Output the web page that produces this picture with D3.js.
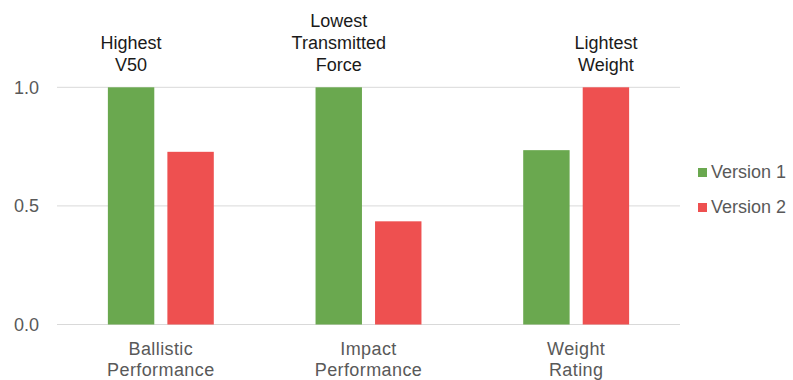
<!DOCTYPE html>
<html>
<head>
<meta charset="utf-8">
<script src="https://cdn.jsdelivr.net/npm/d3@7"></script>
<style>
  html, body { margin: 0; padding: 0; background: #fff; }
  svg { display: block; font-family: "Liberation Sans", Arial, sans-serif; }
</style>
</head>
<body>
<svg id="chart" width="793" height="380"></svg>
<script>
// Normalised scores per category, one array per version
const categories = [["Ballistic", "Performance"], ["Impact", "Performance"], ["Weight", "Rating"]];
const seriesNames = ["Version 1", "Version 2"];
const version1 = [1.0, 1.0, 0.735];
const version2 = [0.728, 0.435, 1.0];
const yTicks = [0.0, 0.5, 1.0];
// Callout text above the leading bar of each category
const calloutLines = [["Highest", "V50"], ["Lowest", "Transmitted", "Force"], ["Lightest", "Weight"]];
const calloutSeries = [0, 0, 1];

const colors = ["#6aa84f", "#ee5050"];
const values = [version1, version2];

const svg = d3.select("#chart");
const plotLeft = 57, plotRight = 680, plotTop = 87.3, plotBottom = 324.5;

const x0 = d3.scaleBand().domain(d3.range(categories.length)).range([plotLeft, plotRight]).padding(0);
const x1 = d3.scaleBand().domain(d3.range(seriesNames.length)).range([0, x0.bandwidth()])
  .paddingInner(0.22).paddingOuter(0.855);
const y = d3.scaleLinear().domain([0, 1]).range([plotBottom, plotTop]);

// Horizontal gridlines
svg.append("g").selectAll("line").data(yTicks).join("line")
  .attr("x1", plotLeft).attr("x2", plotRight)
  .attr("y1", d => y(d)).attr("y2", d => y(d))
  .attr("stroke", "#d9d9d9").attr("stroke-width", 1);

// Y axis tick labels
svg.append("g").selectAll("text").data(yTicks).join("text")
  .attr("x", 39).attr("y", d => y(d) + 6.5)
  .attr("text-anchor", "end")
  .attr("font-size", 18).attr("fill", "#595959")
  .text(d => d3.format(".1f")(d));

// Bars
const groups = svg.append("g").selectAll("g").data(categories).join("g")
  .attr("transform", (d, i) => `translate(${x0(i)},0)`);
groups.selectAll("rect")
  .data((d, i) => seriesNames.map((s, k) => ({ k, v: values[k][i] })))
  .join("rect")
  .attr("x", d => x1(d.k))
  .attr("width", x1.bandwidth())
  .attr("y", d => y(d.v))
  .attr("height", d => y(0) - y(d.v))
  .attr("fill", d => colors[d.k]);

// Category labels (two lines each)
groups.each(function(lines, i) {
  const t = d3.select(this).append("text")
    .attr("text-anchor", "middle")
    .attr("font-size", 18).attr("fill", "#595959")
    .attr("letter-spacing", 0.4);
  lines.forEach((ln, j) => {
    t.append("tspan").attr("x", x0.bandwidth() / 2).attr("y", 355 + j * 21).text(ln);
  });
});

// Callouts above the leading bars
groups.each(function(d, i) {
  const k = calloutSeries[i];
  const lines = calloutLines[i];
  const cx = x1(k) + x1.bandwidth() / 2;
  const lastBase = y(values[k][i]) - 16;
  const t = d3.select(this).append("text")
    .attr("text-anchor", "middle")
    .attr("font-size", 18).attr("fill", "#1a1a1a");
  lines.forEach((ln, j) => {
    t.append("tspan").attr("x", cx)
      .attr("y", lastBase - (lines.length - 1 - j) * 22).text(ln);
  });
});

// Legend
const legend = svg.append("g").selectAll("g").data(seriesNames).join("g")
  .attr("transform", (d, i) => `translate(698,${168 + i * 35})`);
legend.append("rect").attr("width", 9).attr("height", 9)
  .attr("fill", (d, i) => colors[i]);
legend.append("text").attr("x", 13).attr("y", 10)
  .attr("font-size", 18).attr("fill", "#595959")
  .text(d => d);
</script>
</body>
</html>
